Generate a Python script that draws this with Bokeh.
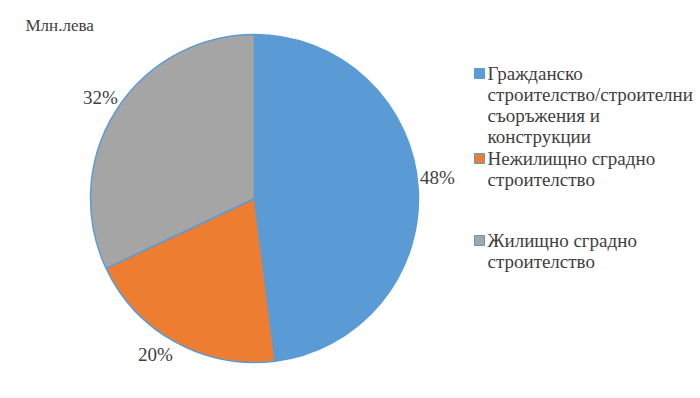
import math
from bokeh.plotting import figure
from bokeh.models import ColumnDataSource, Label
from bokeh.embed import file_html
from bokeh.resources import INLINE

# Data
categories = ["Гражданско строителство/строителни съоръжения и конструкции",
              "Нежилищно сградно строителство",
              "Жилищно сградно строителство"]
shares = [48, 20, 32]
colors = ["#5B9BD5", "#ED7D31", "#A5A5A5"]
pct_labels = ["48%", "20%", "32%"]
legend_lines = [["Гражданско", "строителство/строителни", "съоръжения и", "конструкции"],
                ["Нежилищно сградно", "строителство"],
                ["Жилищно сградно", "строителство"]]
unit_label = "Млн.лева"

W, H = 700, 398
FONT = "Liberation Serif"
TXT = "#404040"

p = figure(width=W, height=H, x_range=(0, W), y_range=(0, H),
           output_backend="svg", toolbar_location=None, min_border=0)
p.xaxis.visible = False
p.yaxis.visible = False
p.xgrid.visible = False
p.ygrid.visible = False
p.outline_line_color = None

# pie
cx, cy, r = 254, H - 198, 164
total = sum(shares)
starts, ends = [], []
a = math.pi / 2
for s in shares:
    starts.append(a)
    a -= s / total * 2 * math.pi
    ends.append(a)

src = ColumnDataSource(dict(start=starts, end=ends, color=colors))
p.wedge(x=cx, y=cy, radius=r, start_angle="start", end_angle="end",
        direction="clock", fill_color="color", line_color="#5B9BD5",
        line_width=1.5, source=src)

# labels as annotations
p.add_layout(Label(x=25, y=H - 25, text=unit_label, text_font=FONT,
                   text_font_size="17px", text_color=TXT,
                   text_baseline="middle"))

lab_x = [437, 155, 100]
lab_y = [H - 177, H - 354, H - 97]
for x, y, t in zip(lab_x, lab_y, pct_labels):
    p.add_layout(Label(x=x, y=y, text=t, text_font=FONT, text_font_size="19px",
                       text_color=TXT, text_align="center",
                       text_baseline="middle"))

first_y = [73, 158, 240]
lh = 21
for lines, y0 in zip(legend_lines, first_y):
    for i, t in enumerate(lines):
        p.add_layout(Label(x=487, y=H - (y0 + i * lh), text=t, text_font=FONT,
                           text_font_size="19px", text_color=TXT,
                           text_baseline="middle"))

p.rect(x=[479] * 3, y=[H - y for y in first_y], width=10, height=10,
       fill_color=colors, line_color="#5B9BD5", line_width=1)

open("out.html", "w").write(file_html(p, INLINE))
